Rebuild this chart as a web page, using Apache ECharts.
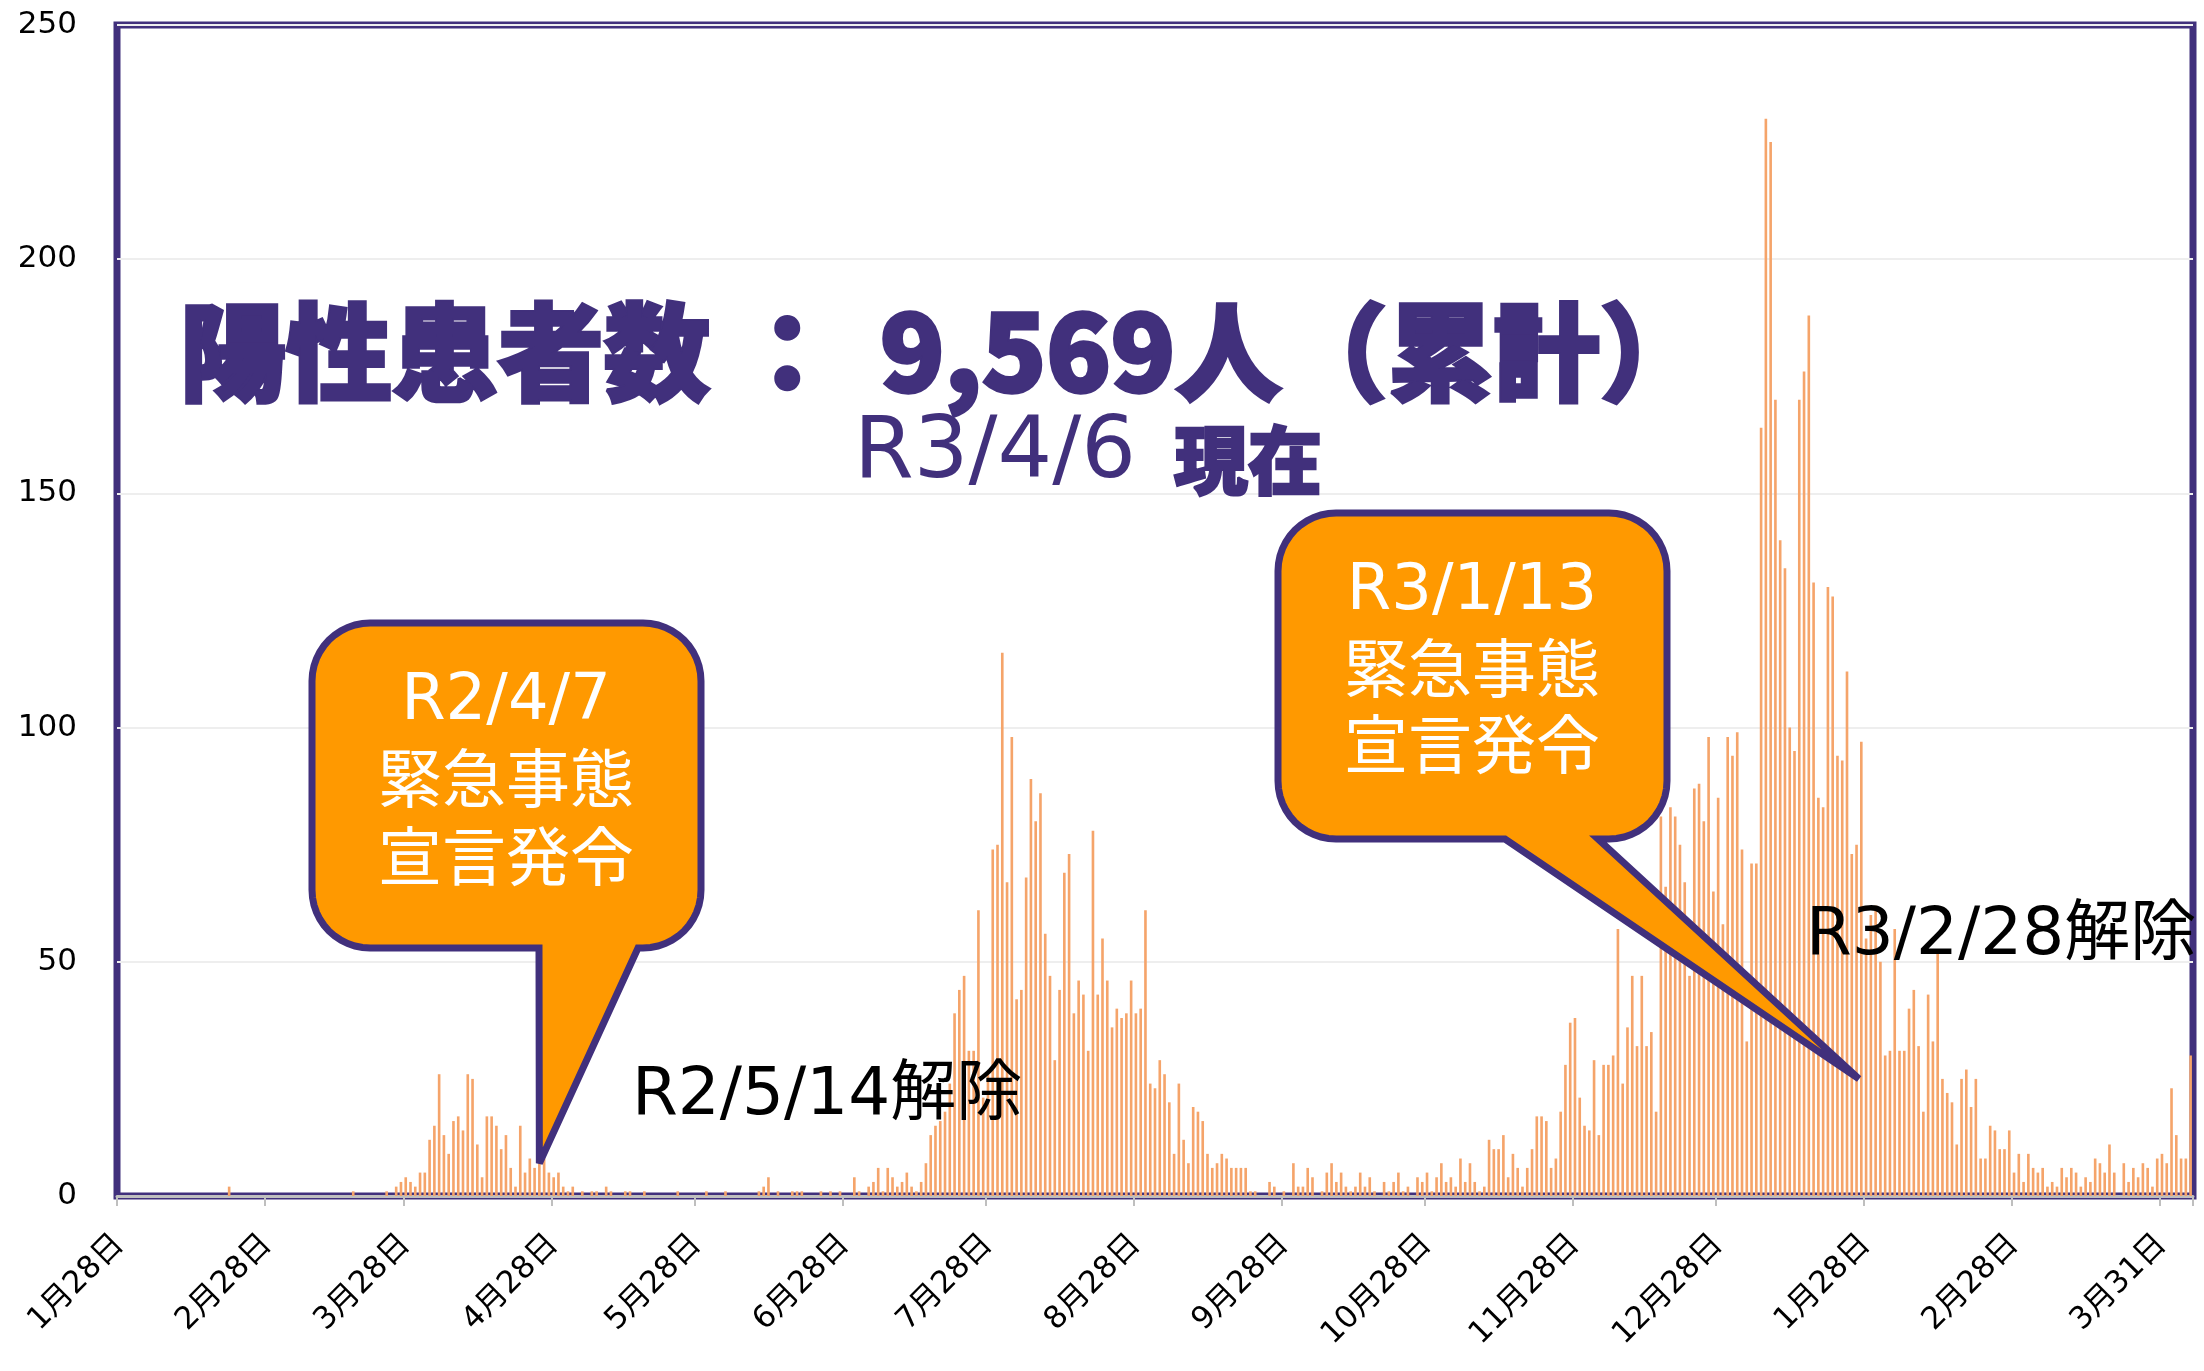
<!DOCTYPE html>
<html>
<head>
<meta charset="utf-8">
<title>陽性患者数</title>
<script src="https://cdn.jsdelivr.net/npm/echarts@6.0.0/dist/echarts.min.js"></script>
<style>
  html, body { margin: 0; padding: 0; background: #fff; }
  #chart { width: 2204px; height: 1371px; }
</style>
</head>
<body>
<div id="chart"></div>
<script>
// 日別の陽性者数 R2/1/28 〜 R3/4/6 (月ごと)
const jan2020 = [0, 0, 0, 0]
const feb2020 = [0, 0, 0, 0, 0, 0, 0, 0, 0, 0, 0, 0, 0, 0, 0, 0, 0, 0, 0, 2, 0, 0, 0, 0, 0, 0, 0, 0, 0]
const mar2020 = [0, 0, 0, 0, 0, 0, 0, 0, 0, 0, 0, 0, 0, 0, 0, 0, 1, 0, 0, 0, 0, 0, 0, 1, 0, 2, 3, 4, 3, 2, 5]
const apr2020 = [5, 12, 15, 26, 13, 9, 16, 17, 14, 26, 25, 11, 4, 17, 17, 15, 10, 13, 6, 2, 15, 5, 8, 6, 7, 8, 5, 4, 5, 2]
const may2020 = [1, 2, 0, 1, 0, 1, 1, 0, 2, 1, 0, 0, 1, 1, 0, 0, 1, 0, 0, 0, 0, 0, 0, 1, 0, 0, 0, 0, 0, 1, 0]
const jun2020 = [0, 0, 1, 0, 0, 0, 0, 0, 0, 1, 2, 4, 0, 1, 0, 0, 1, 1, 1, 0, 0, 0, 1, 0, 1, 0, 1, 0, 0, 4]
const jul2020 = [1, 0, 2, 3, 6, 1, 6, 4, 2, 3, 5, 2, 1, 3, 7, 13, 15, 16, 18, 24, 39, 44, 47, 31, 31, 61, 21, 26, 74, 75, 116]
const aug2020 = [67, 98, 42, 44, 68, 89, 80, 86, 56, 47, 29, 44, 69, 73, 39, 46, 43, 31, 78, 43, 55, 46, 36, 40, 38, 39, 46, 39, 40, 61, 24]
const sep2020 = [23, 29, 26, 20, 9, 24, 12, 7, 19, 18, 16, 9, 6, 7, 9, 8, 6, 6, 6, 6, 1, 1, 0, 0, 3, 2, 0, 1, 0, 7]
const oct2020 = [2, 2, 6, 4, 0, 1, 5, 7, 3, 5, 2, 1, 2, 5, 2, 4, 1, 0, 3, 1, 3, 5, 1, 2, 0, 4, 3, 5, 1, 4, 7]
const nov2020 = [3, 4, 2, 8, 3, 7, 3, 1, 2, 12, 10, 10, 13, 4, 9, 6, 2, 6, 10, 17, 17, 16, 6, 8, 18, 28, 37, 38, 21, 15]
const dec2020 = [14, 29, 13, 28, 28, 30, 57, 24, 36, 47, 32, 47, 32, 35, 18, 81, 66, 83, 81, 75, 67, 47, 87, 88, 80, 98, 65, 85, 58, 98, 94]
const jan2021 = [99, 74, 33, 71, 71, 164, 230, 225, 170, 140, 134, 100, 95, 170, 176, 188, 131, 85, 83, 130, 128, 94, 93, 112, 73, 75, 97, 55, 60, 62, 50]
const feb2021 = [30, 31, 57, 31, 31, 40, 44, 32, 18, 43, 33, 52, 25, 22, 20, 11, 25, 27, 19, 25, 8, 8, 15, 14, 10, 10, 14, 5]
const mar2021 = [9, 3, 9, 6, 5, 6, 2, 3, 2, 6, 4, 6, 5, 2, 4, 3, 8, 7, 5, 11, 5, 0, 7, 3, 6, 4, 7, 6, 2, 8, 9]
const apr2021 = [7, 23, 13, 8, 8, 30]

// 目盛り (1/28 からの日数) とラベル
const tickDays = [0, 31, 60, 91, 121, 152, 182, 213, 244, 274, 305, 335, 366, 397, 428]
const tickLabels = ['1月28日', '2月28日', '3月28日', '4月28日', '5月28日', '6月28日', '7月28日', '8月28日',
    '9月28日', '10月28日', '11月28日', '12月28日', '1月28日', '2月28日', '3月31日']

const counts = [].concat(jan2020, feb2020, mar2020, apr2020, may2020, jun2020, jul2020, aug2020,
    sep2020, oct2020, nov2020, dec2020, jan2021, feb2021, mar2021, apr2021)

const days = []
for (let i = 0; i < counts.length; i++) {
    const d = new Date(2020, 0, 28 + i)
    days.push((d.getMonth() + 1) + '月' + d.getDate() + '日')
}

const purple = '#41307c'
const orange = '#ff9900'
const latin = "'DejaVu Sans', 'Noto Sans CJK JP', sans-serif"
const cjk = "'Noto Sans CJK JP', sans-serif"

const chart = echarts.init(document.getElementById('chart'))

chart.setOption({
    animation: false,
    backgroundColor: '#fff',
    grid: {
        left: 117, right: 11, top: 25, bottom: 175,
        containLabel: false,
        show: true,
        borderColor: purple,
        borderWidth: 7
    },
    xAxis: {
        type: 'category',
        data: days,
        boundaryGap: true,
        axisLine: { show: true, lineStyle: { color: '#bfbfbf', width: 3 } },
        axisTick: {
            show: true,
            length: 10,
            interval: (idx) => tickDays.includes(idx),
            lineStyle: { color: '#bfbfbf', width: 2 }
        },
        axisLabel: {
            interval: (idx) => tickDays.includes(idx),
            formatter: (v, idx) => tickLabels[tickDays.indexOf(idx)],
            rotate: 45,
            margin: 44,
            fontSize: 31,
            fontFamily: latin,
            color: '#000'
        },
        splitLine: { show: false }
    },
    yAxis: {
        type: 'value',
        min: 0,
        max: 250,
        interval: 50,
        axisLine: { show: false },
        axisTick: { show: false },
        axisLabel: { fontSize: 31, fontFamily: latin, color: '#000', margin: 40 },
        splitLine: { lineStyle: { color: '#eeeeee', width: 2 } }
    },
    series: [{
        type: 'bar',
        data: counts,
        barWidth: '55%',
        itemStyle: { color: '#f5a46a' }
    }]
})

// 吹き出しの形 (角丸の箱 + しっぽ) を折れ線の点で作る
function corner (cx, cy, r, from, to) {
    const pts = []
    for (let s = 0; s <= 12; s++) {
        const t = (from + (to - from) * s / 12) * Math.PI
        pts.push([cx + r * Math.cos(t), cy + r * Math.sin(t)])
    }
    return pts
}

function bubble (b, tip) {
    const { x, y, w, h, r, t1, t2 } = b
    return [].concat(
        corner(x + r, y + r, r, 1, 1.5),
        corner(x + w - r, y + r, r, 1.5, 2),
        corner(x + w - r, y + h - r, r, 0, 0.5),
        [[t2, y + h], tip, [t1, y + h]],
        corner(x + r, y + h - r, r, 0.5, 1)
    )
}

const tip1 = chart.convertToPixel({ xAxisIndex: 0, yAxisIndex: 0 }, [88, 7])
const a = chart.convertToPixel({ xAxisIndex: 0, yAxisIndex: 0 }, [364, 25])
const b = chart.convertToPixel({ xAxisIndex: 0, yAxisIndex: 0 }, [365, 25])
const tip2 = [(a[0] + b[0]) / 2, a[1]]

const box1 = { x: 312, y: 623, w: 389, h: 325, r: 58, t1: 539, t2: 638 }
const box2 = { x: 1278, y: 513, w: 389, h: 326, r: 58, t1: 1505, t2: 1598 }

function label (text, x, y, size, fill, font, align) {
    return {
        type: 'text',
        z: 110,
        style: {
            text: text,
            x: x,
            y: y,
            fill: fill,
            font: size + 'px ' + font,
            align: align || 'center',
            textAlign: align || 'center',
            verticalAlign: 'middle',
            textVerticalAlign: 'middle'
        }
    }
}

// 太字の見出し (線を足して太くする)
function heavy (text, x, y, size, stroke) {
    return {
        type: 'text',
        z: 110,
        style: {
            text: text,
            x: x,
            y: y,
            fill: purple,
            stroke: purple,
            lineWidth: stroke,
            lineJoin: 'round',
            font: '900 ' + size + 'px ' + cjk,
            align: 'left', textAlign: 'left',
            verticalAlign: 'middle', textVerticalAlign: 'middle'
        }
    }
}

const bubbleStyle = { fill: orange, stroke: purple, lineWidth: 7, lineJoin: 'miter', miterLimit: 3 }

chart.setOption({
    graphic: [
        heavy('陽性患者数 ：', 180, 352, 106, 3.5),
        heavy('9,569人（累計）', 880, 352, 106, 3.5),
        label('R3/4/6', 854, 455, 86, purple, latin, 'left'),
        heavy('現在', 1174, 460, 74, 2.5),
        label('R2/5/14解除', 632, 1097, 66, '#000', latin, 'left'),
        label('R3/2/28解除', 1806, 937, 66, '#000', latin, 'left'),
        {
            type: 'polygon',
            z: 100,
            shape: { points: bubble(box1, tip1) },
            style: bubbleStyle
        },
        label('R2/4/7', 506, 702, 64, '#fff', latin),
        label('緊急事態', 506, 778, 64, '#fff', cjk),
        label('宣言発令', 506, 856, 64, '#fff', cjk),
        {
            type: 'polygon',
            z: 100,
            shape: { points: bubble(box2, tip2) },
            style: bubbleStyle
        },
        label('R3/1/13', 1472, 592, 64, '#fff', latin),
        label('緊急事態', 1472, 668, 64, '#fff', cjk),
        label('宣言発令', 1472, 744, 64, '#fff', cjk)
    ]
})
</script>
</body>
</html>
